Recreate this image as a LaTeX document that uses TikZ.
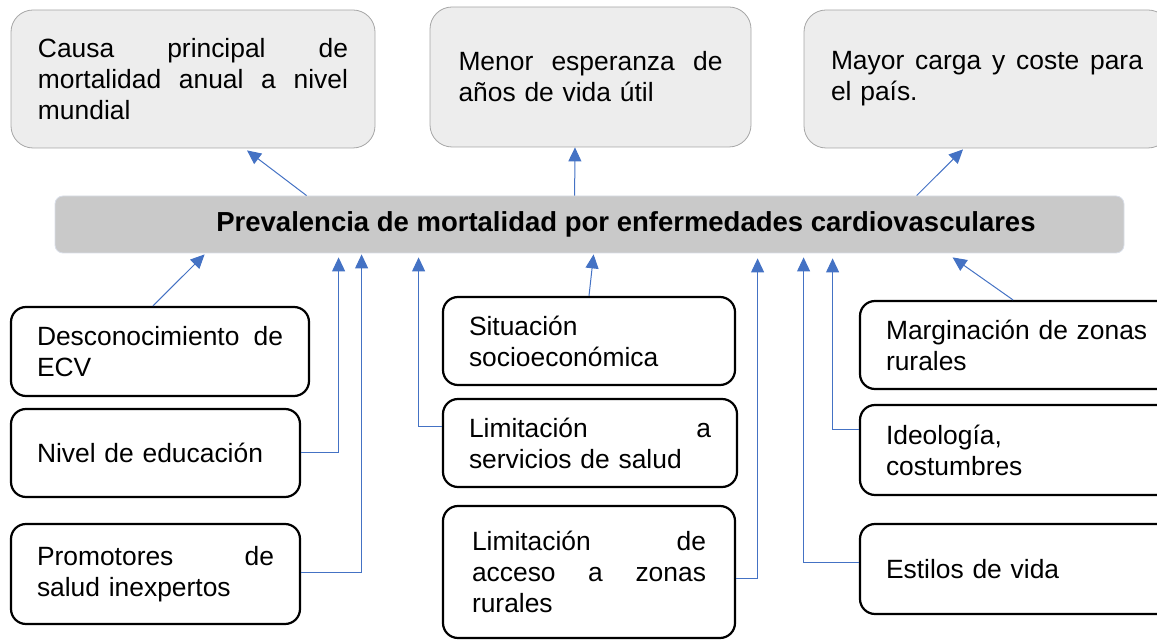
\documentclass[tikz,border=0pt]{standalone}
\usepackage{fontspec}
\setmainfont{Liberation Sans}
\usetikzlibrary{arrows.meta}
\definecolor{linkblue}{HTML}{4472C4}
\definecolor{topfill}{HTML}{EDEDED}
\definecolor{topline}{HTML}{A6A6A6}
\definecolor{barfill}{HTML}{C9C9C9}
\definecolor{barline}{HTML}{D9DEE8}
\begin{document}
\begin{tikzpicture}[x=0.5pt, y=-0.5pt,
  font=\fontsize{13.2}{15.5}\selectfont,
  topbox/.style={draw=topline, fill=topfill, rounded corners=11pt, inner sep=2pt, align=left},
  barbox/.style={draw=barline, fill=barfill, rounded corners=4pt, font=\fontsize{13.75}{15.5}\selectfont\bfseries},
  causebox/.style={draw=black, line width=1.1pt, rounded corners=7.5pt, inner sep=2pt, align=left},
  link/.style={draw=linkblue, line width=0.5pt, -{Triangle[length=7pt,width=6.5pt]}}]
\useasboundingbox (0,0) rectangle (1157,641);
% efectos
\node[topbox, minimum width=182pt, minimum height=69pt, text width=155pt] (causa) at (193,79)
  {Causa\hfill principal\hfill de\\mortalidad\hfill anual\hfill a\hfill nivel\\mundial};
\node[topbox, minimum width=160.5pt, minimum height=70pt, text width=132pt] (menor) at (590.5,77)
  {Menor\hfill esperanza\hfill de\\a\~nos de vida \'util};
\node[topbox, minimum width=183pt, minimum height=69pt, text width=156pt] (mayor) at (987,79)
  {Mayor\hfill carga\hfill y\hfill coste\hfill para\\el pa\'is.};
% problema central
\node[barbox, minimum width=534.5pt, minimum height=28.5pt] (bar) at (589.5,224.5)
  {\hspace*{36.5pt}Prevalencia de mortalidad por enfermedades cardiovasculares};
% causas
\node[causebox, minimum width=149pt, minimum height=44.5pt, text width=123pt] (desc) at (160,351.5)
  {Desconocimiento\hfill de\\ECV};
\node[causebox, minimum width=144.5pt, minimum height=44pt, text width=118.5pt] (nivel) at (155.5,453)
  {Nivel de educaci\'on};
\node[causebox, minimum width=144.5pt, minimum height=50pt, text width=118.5pt] (prom) at (155.5,574)
  {Promotores\hfill de\\salud inexpertos};
\node[causebox, minimum width=146pt, minimum height=44pt, text width=120pt] (sit) at (589,341)
  {Situaci\'on\\socioecon\'omica};
\node[causebox, minimum width=147pt, minimum height=44pt, text width=121pt] (limser) at (590,443)
  {Limitaci\'on\hfill a\\servicios de salud};
\node[causebox, minimum width=146pt, minimum height=66pt, text width=117pt] (limacc) at (589,572)
  {Limitaci\'on\hfill de\\acceso\hfill a\hfill zonas\\rurales};
\node[causebox, minimum width=161pt, minimum height=44pt, text width=135pt] (marg) at (1021,345)
  {Marginaci\'on de zonas\\rurales};
\node[causebox, minimum width=161pt, minimum height=45pt, text width=135pt] (ideo) at (1021,450)
  {Ideolog\'ia,\\costumbres};
\node[causebox, minimum width=161pt, minimum height=45pt, text width=135pt] (estilos) at (1021,569)
  {Estilos de vida};
% flechas hacia los efectos
\draw[link] ([xshift=126pt]bar.north west) -- ([xshift=27pt,yshift=-1pt]causa.south);
\draw[link] ([xshift=260pt]bar.north west) -- ([xshift=-7.75pt]menor.south);
\draw[link] ([xshift=431pt]bar.north west) -- ([xshift=-12pt,yshift=-0.5pt]mayor.south);
% flechas desde las causas
\draw[link] ([xshift=-3.5pt]desc.north) -- ([xshift=75pt,yshift=-0.5pt]bar.south west);
\draw[link] (nivel.east) -| ([xshift=142pt,yshift=-2pt]bar.south west);
\draw[link] ([yshift=1pt]prom.east) -| ([xshift=153.5pt,yshift=-0.5pt]bar.south west);
\draw[link] ([yshift=8pt]limser.west) -| ([xshift=182pt,yshift=-2pt]bar.south west);
\draw[link] (sit.north) -- ([xshift=269.5pt,yshift=-0.5pt]bar.south west);
\draw[link] ([yshift=-3pt]limacc.east) -| ([xshift=351.5pt,yshift=-2.5pt]bar.south west);
\draw[link] ([yshift=3pt]estilos.west) -| ([xshift=374.5pt,yshift=-2pt]bar.south west);
\draw[link] ([yshift=10pt]ideo.west) -| ([xshift=389pt,yshift=-2.5pt]bar.south west);
\draw[link] ([xshift=-4pt]marg.north) -- ([xshift=449pt,yshift=-2pt]bar.south west);
\end{tikzpicture}
\end{document}
